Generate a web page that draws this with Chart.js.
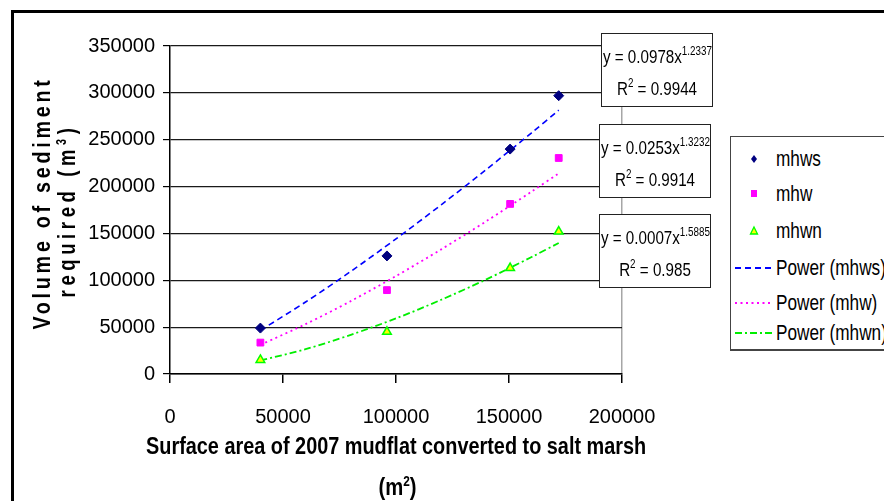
<!DOCTYPE html>
<html>
<head>
<meta charset="utf-8">
<script src="https://cdn.jsdelivr.net/npm/chart.js@4.4.1/dist/chart.umd.min.js"></script>
<style>
  html, body { margin: 0; padding: 0; background: #fff; overflow: hidden; }
  #wrap { position: relative; width: 884px; height: 501px; overflow: hidden; font-family: 'Liberation Sans', Arial, sans-serif; color: #000; }
  canvas { position: absolute; left: 0; top: 0; }
  .eq { position: absolute; width: 112px; height: 74px; box-sizing: border-box; border: 1.5px solid #222; background: #fff; font-size: 18.5px; }
  .eq .l1 { position: absolute; left: 1px; top: 12px; white-space: nowrap; transform: scaleX(0.82); transform-origin: 0 50%; }
  .eq .l2 { position: absolute; left: 0; right: 0; top: 44px; text-align: center; white-space: nowrap; transform: scaleX(0.82); transform-origin: 50% 50%; }
  .eq sup { font-size: 12px; vertical-align: 0; position: relative; top: -8px; }
  #legend { position: absolute; left: 730px; top: 136px; width: 200px; height: 215px; box-sizing: border-box; border: 1px solid #444; border-bottom: 2px solid #444; background: #fff; font-size: 21.5px; }
  #legend .item { position: absolute; left: 0; height: 30px; line-height: 30px; white-space: nowrap; }
  #legend .item svg { position: absolute; left: 2px; top: 0; }
  #legend .item span { position: absolute; left: 45px; top: 0; transform: scaleX(0.8); transform-origin: 0 50%; }
  .yt { position: absolute; font-weight: bold; font-size: 24px; line-height: 24px; white-space: nowrap; }
  .yt sup, .xt sup { font-size: 14px; vertical-align: 0; position: relative; top: -9px; }
  .xt { position: absolute; font-weight: bold; font-size: 24px; line-height: 24px; white-space: nowrap; }
</style>
</head>
<body>
<div id="wrap">
  <canvas id="chart" width="884" height="501"></canvas>
  <div class="yt" id="yt1" style="letter-spacing:4.5px">Volume of sediment</div>
  <div class="yt" id="yt2" style="letter-spacing:6px">required (m<sup>3</sup>)</div>
  <div class="xt" id="xt1">Surface area of 2007 mudflat converted to salt marsh</div>
  <div class="xt" id="xt2">(m<sup>2</sup>)</div>
  <div id="eqs"></div>
  <div id="legend"></div>
</div>
<script>
// measured points
const areaX = [40000, 96000, 150500, 172000];
const mhws = [49000, 126000, 240000, 297000];
const mhw = [33500, 89500, 181500, 230500];
const mhwn = [15000, 45000, 113000, 152000];

// power trendlines
const trendX = [40000, 60000, 80000, 100000, 120000, 140000, 160000, 172000];
const powerMhws = [46500, 76800, 109500, 144200, 180500, 218300, 257400, 281500];
const powerMhw = [31100, 53200, 77800, 104500, 133000, 163100, 194600, 214100];
const powerMhwn = [14500, 26500, 41800, 59300, 79200, 101000, 124800, 139800];

const xTicks = [0, 50000, 100000, 150000, 200000];
const yTicks = [0, 50000, 100000, 150000, 200000, 250000, 300000, 350000];

const equations = [
  { coef: "0.0978", exp: "1.2337", r2: "0.9944" },
  { coef: "0.0253", exp: "1.3232", r2: "0.9914" },
  { coef: "0.0007", exp: "1.5885", r2: "0.985" }
];

const fontFam = "'Liberation Sans', Arial, sans-serif";

function pts(xs, ys) {
  return xs.map((x, i) => ({ x: x, y: ys[i] }));
}

const datasets = [
  { label: "mhws", data: pts(areaX, mhws), showLine: false, pointStyle: "rectRot", pointRadius: 5, backgroundColor: "#000080", borderColor: "#000080", borderWidth: 1 },
  { label: "mhw", data: pts(areaX, mhw), showLine: false, pointStyle: "rect", pointRadius: 4.8, backgroundColor: "#ff00ff", borderColor: "#ff00ff", borderWidth: 1 },
  { label: "mhwn", data: pts(areaX, mhwn), showLine: false, pointStyle: "triangle", pointRadius: 5, backgroundColor: "#ffff00", borderColor: "#00ff00", borderWidth: 1.5 },
  { label: "Power (mhws)", data: pts(trendX, powerMhws), showLine: true, pointRadius: 0, borderColor: "#0000ff", borderWidth: 1.6, borderDash: [6, 4], tension: 0.3, fill: false },
  { label: "Power (mhw)", data: pts(trendX, powerMhw), showLine: true, pointRadius: 0, borderColor: "#ff00ff", borderWidth: 1.8, borderDash: [2, 3.5], tension: 0.3, fill: false },
  { label: "Power (mhwn)", data: pts(trendX, powerMhwn), showLine: true, pointRadius: 0, borderColor: "#00ee00", borderWidth: 1.8, borderDash: [7, 3, 2, 3], tension: 0.3, fill: false }
];

// thick outer frame: only its left and top edges fall inside the picture
const framePlugin = {
  id: "frame",
  beforeDraw(chart) {
    const ctx = chart.ctx;
    ctx.save();
    ctx.fillStyle = "#000";
    ctx.fillRect(11, 10, 3, 491);
    ctx.fillRect(11, 10, 873, 3);
    ctx.restore();
  }
};

new Chart(document.getElementById("chart"), {
  type: "scatter",
  data: { datasets: datasets },
  plugins: [framePlugin],
  options: {
    responsive: false,
    animation: false,
    layout: { padding: { left: 0, top: 46, right: 262, bottom: 0 } },
    plugins: { legend: { display: false }, tooltip: { enabled: false } },
    scales: {
      x: {
        type: "linear", min: 0, max: 200000,
        afterBuildTicks: (s) => { s.ticks = xTicks.map((v) => ({ value: v })); },
        afterFit: (s) => { s.height = 127; },
        ticks: { color: "#000", font: { family: fontFam, size: 20 }, padding: 22, maxRotation: 0, callback: (v) => String(v) },
        grid: {
          color: (c) => (c.tick && c.tick.value === 200000 ? "#a6a6a6" : "rgba(0,0,0,0)"),
          lineWidth: 1.5, tickColor: "#000", tickLength: 9
        },
        border: { color: "#000", width: 1.5 }
      },
      y: {
        min: 0, max: 350000,
        afterBuildTicks: (s) => { s.ticks = yTicks.map((v) => ({ value: v })); },
        afterFit: (s) => { s.width = 170; },
        ticks: { color: "#000", font: { family: fontFam, size: 20 }, padding: 8, callback: (v) => String(v) },
        grid: { color: "#1a1a1a", lineWidth: 1.2, tickColor: "#000", tickLength: 7 },
        border: { color: "#000", width: 1.5 }
      }
    }
  }
});

// axis titles: squeeze to the narrow look of the original and place by centre
function place(id, cx, cy, targetW, rotate) {
  const el = document.getElementById(id);
  const w = el.offsetWidth, h = el.offsetHeight;
  el.style.left = (cx - w / 2) + "px";
  el.style.top = (cy - h / 2) + "px";
  el.style.transform = (rotate ? "rotate(-90deg) " : "") + "scaleX(" + (targetW / w) + ")";
}
place("yt1", 41, 203, 253, true);
place("yt2", 69, 210, 174, true);
place("xt1", 396, 446, 500, false);
place("xt2", 397, 488, 38, false);

// equation boxes
const eqBoxes = [
  { left: 601, top: 33 },
  { left: 599, top: 124 },
  { left: 599, top: 214 }
];
const eqs = document.getElementById("eqs");
equations.forEach((e, i) => {
  const d = document.createElement("div");
  d.className = "eq";
  d.style.left = eqBoxes[i].left + "px";
  d.style.top = eqBoxes[i].top + "px";
  d.innerHTML = '<div class="l1">y = ' + e.coef + "x<sup>" + e.exp + '</sup></div><div class="l2">R<sup>2</sup> = ' + e.r2 + "</div>";
  eqs.appendChild(d);
});

// legend
function markerSvg(ds) {
  const w = 40, h = 30, cy = 15;
  let s = '<svg width="' + w + '" height="' + h + '">';
  if (ds.pointStyle === "rectRot") {
    s += '<polygon points="21,' + (cy - 4) + " 24," + cy + " 21," + (cy + 4) + " 18," + cy + '" fill="' + ds.backgroundColor + '"/>';
  } else if (ds.pointStyle === "rect") {
    s += '<rect x="18" y="' + (cy - 4) + '" width="6" height="7" fill="' + ds.backgroundColor + '"/>';
  } else if (ds.pointStyle === "triangle") {
    s += '<polygon points="21,' + (cy - 4) + " 24.5," + (cy + 3) + " 17.5," + (cy + 3) + '" fill="' + ds.backgroundColor + '" stroke="' + ds.borderColor + '" stroke-width="1.3"/>';
  } else {
    s += '<line x1="2" y1="' + cy + '" x2="39" y2="' + cy + '" stroke="' + ds.borderColor + '" stroke-width="2" stroke-dasharray="' + ds.borderDash.join(",") + '"/>';
  }
  return s + "</svg>";
}
const legendTops = [7, 42, 79, 116, 151, 181];
const legend = document.getElementById("legend");
datasets.forEach((ds, i) => {
  const it = document.createElement("div");
  it.className = "item";
  it.style.top = legendTops[i] + "px";
  it.innerHTML = markerSvg(ds) + "<span>" + ds.label + "</span>";
  legend.appendChild(it);
});
</script>
</body>
</html>
